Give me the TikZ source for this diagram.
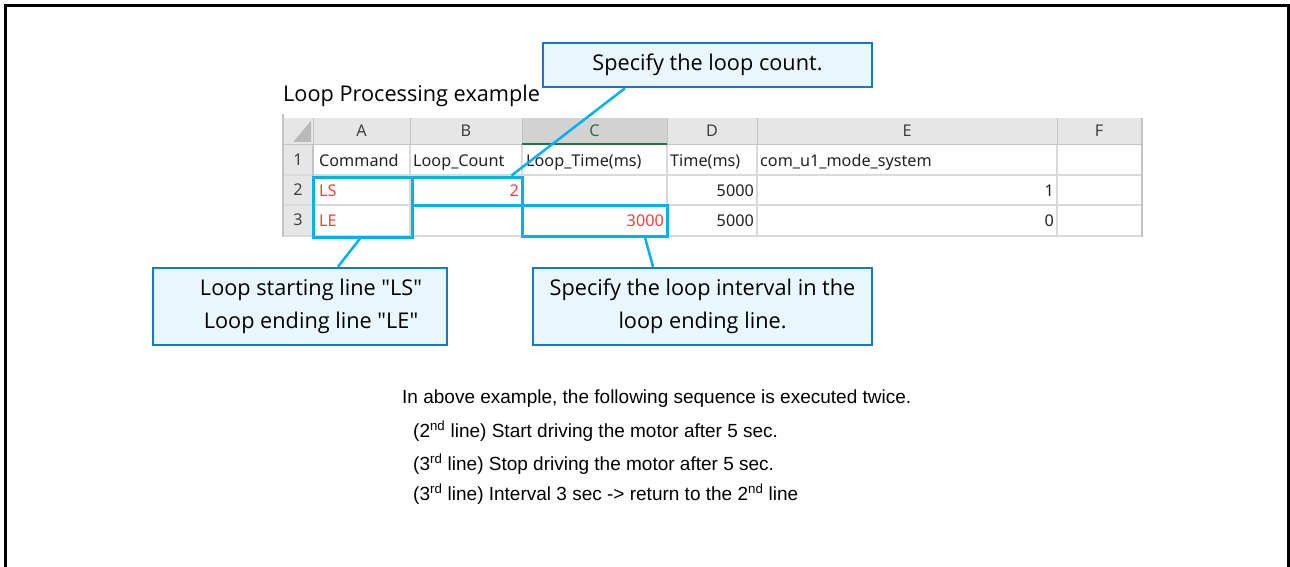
\documentclass[tikz,border=0pt]{standalone}
\usepackage{fontspec}
\setmainfont{Liberation Sans}
\newfontfamily\calfont{Open Sans}
\newfontfamily\xlfont{Noto Sans}
\definecolor{hlblue}{HTML}{00B0F0}
\definecolor{calborder}{HTML}{1878C8}
\definecolor{calfill}{HTML}{EAF6FE}
\definecolor{xlred}{HTML}{FF3B3B}
\definecolor{hdrgray}{HTML}{E6E6E6}
\definecolor{hdrsel}{HTML}{D2D2D2}
\definecolor{gridgray}{HTML}{DADADA}
\definecolor{hdrline}{HTML}{C4C4C4}
\definecolor{xlgreen}{HTML}{217346}
\definecolor{xltext}{HTML}{222222}
\tikzset{
  hl/.style={draw=hlblue, line width=3pt, inner sep=0pt},
  callout/.style={draw=calborder, fill=calfill, line width=2.5pt, inner sep=0pt,
    font=\calfont\fontsize{21.7}{33}\selectfont, align=center},
  conn/.style={draw=hlblue, line width=2.5pt},
  xl/.style={font=\xlfont\fontsize{16.2}{18}\selectfont, text=xltext, inner sep=0pt},
  xlhdr/.style={xl, text=black!75},
  xlred/.style={xl, text=xlred},
  note/.style={font=\fontsize{19}{22}\selectfont, inner sep=0pt, anchor=base west},
}
\begin{document}
\begin{tikzpicture}[x=1pt,y=-1pt]
\useasboundingbox (0,0) rectangle (1290,567);
% frame (open at bottom)
\draw[line width=2.8pt] (5.5,567) -- (5.5,5.2) -- (1288.6,5.2) -- (1288.6,567);

% title
\node[font=\calfont\fontsize{21.7}{24}\selectfont, anchor=base west, inner sep=0pt] (title) at (283,102) {Loop Processing example};

% spreadsheet background
\fill[hdrgray] (283,118) rectangle (1141,145);
\fill[hdrgray] (283,145) rectangle (313,236);
\fill[hdrsel] (522,118) rectangle (667,145);
\fill[gray!55] (293,142) -- (311,142) -- (311,121) -- cycle;
% grid
\foreach \y in {175,205,236}
  \draw[gridgray, line width=1.2pt] (283,\y) -- (1141,\y);
\foreach \x in {313,410,522,667,757,1057}
  \draw[gridgray, line width=1.2pt] (\x,145) -- (\x,236);
\foreach \x in {313,410,522,667,757,1057}
  \draw[hdrline, line width=1pt] (\x,118) -- (\x,145);
\draw[hdrline, line width=1pt] (283,145) -- (1141,145);
\draw[hdrline, line width=1.5pt] (313,145) -- (313,236);
\draw[hdrline, line width=1.2pt] (283,114) -- (283,237);
\draw[hdrline, line width=1.5pt] (1142,118) -- (1142,237);
\draw[xlgreen, line width=2pt] (522,144) -- (667,144);

% column headers
\node[xlhdr] (hA) at (361.5,131) {A};
\node[xlhdr] (hB) at (466,131) {B};
\node[xl, text=xlgreen] (hC) at (594.5,131) {C};
\node[xlhdr] (hD) at (712,131) {D};
\node[xlhdr] (hE) at (907,131) {E};
\node[xlhdr] (hF) at (1099,131) {F};
% row numbers
\node[xlhdr] (r1) at (298,160) {1};
\node[xlhdr] (r2) at (298,190) {2};
\node[xlhdr] (r3) at (298,220) {3};
% row 1
\node[xl, anchor=base west] (c1a) at (319,166) {Command};
\node[xl, anchor=base west] (c1b) at (413,166) {Loop\_Count};
\node[xl, anchor=base west] (c1c) at (526,166) {Loop\_Time(ms)};
\node[xl, anchor=base west] (c1d) at (670,166) {Time(ms)};
\node[xl, anchor=base west] (c1e) at (760,166) {com\_u1\_mode\_system};
% row 2
\node[xlred, anchor=base west] (c2a) at (319,196) {LS};
\node[xlred, anchor=base east] (c2b) at (519,196) {2};
\node[xl, anchor=base east] (c2d) at (754,196) {5000};
\node[xl, anchor=base east] (c2e) at (1054,196) {1};
% row 3
\node[xlred, anchor=base west] (c3a) at (319,226) {LE};
\node[xlred, anchor=base east] (c3c) at (664,226) {3000};
\node[xl, anchor=base east] (c3d) at (754,226) {5000};
\node[xl, anchor=base east] (c3e) at (1054,226) {0};

% highlight boxes
\node[hl, minimum width=99pt, minimum height=60pt] (hlA) at (362.5,207) {};
\node[hl, minimum width=110pt, minimum height=28pt] (hlB) at (467,191) {};
\node[hl, minimum width=145pt, minimum height=31pt] (hlC) at (595,220.5) {};

% callouts
\node[callout, minimum width=329pt, minimum height=44pt] (cal1) at (707.5,65) {Specify the loop count.};
\node[callout, minimum width=294pt, minimum height=77pt] (cal2) at (300,306.5)
  {\hspace*{22pt}Loop starting line "LS"\\\hspace*{22pt}Loop ending line "LE"};
\node[callout, minimum width=339pt, minimum height=77pt] (cal3) at (702.5,306.5)
  {Specify the loop interval in the\\loop ending line.};

% connectors
\draw[conn] ([xshift=-82.5pt]cal1.south) -- ([xshift=-12pt]hlB.north east);
\draw[conn] ([xshift=38pt]cal2.north) -- ([xshift=-2.5pt]hlA.south);
\draw[conn] ([xshift=-49.5pt]cal3.north) -- ([xshift=50pt]hlC.south);

% explanation
\node[note] (n1) at (402,403) {In above example, the following sequence is executed twice.};
\node[note] (n2) at (413,437) {(2\textsuperscript{nd} line) Start driving the motor after 5 sec.};
\node[note] (n3) at (413,470) {(3\textsuperscript{rd} line) Stop driving the motor after 5 sec.};
\node[note] (n4) at (413,500) {(3\textsuperscript{rd} line) Interval 3 sec -> return to the 2\textsuperscript{nd} line};
\end{tikzpicture}
\end{document}
